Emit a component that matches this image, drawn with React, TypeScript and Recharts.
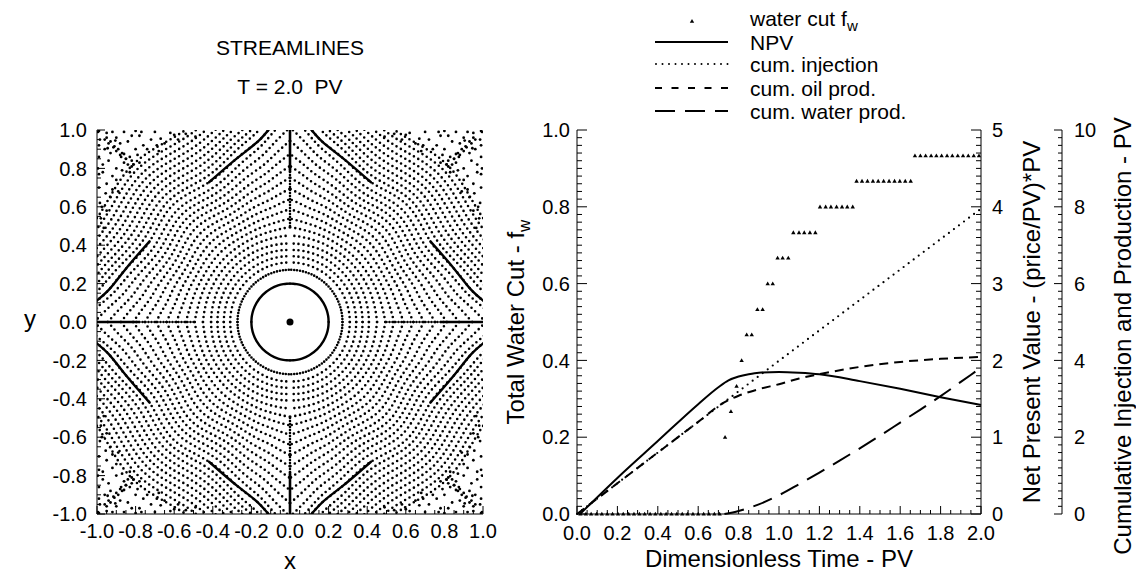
import React from "react";
import { ComposedChart, Line, Scatter, XAxis, YAxis } from "recharts";

const FONT = "'Liberation Sans', Arial, Helvetica, sans-serif";

// ---------- streamline panel ----------
// isochrone rings: radius read at these angles (deg) from the nearest axis
const ringAngles = [0, 5, 10, 18, 30, 45];
const ringR0 = [0.2, 0.272, 0.31, 0.343, 0.376, 0.409, 0.451, 0.494, 0.539, 0.588, 0.639, 0.694, 0.752, 0.813, 0.876, 0.944, 1.014, 1.081, 1.12, 1.181, 1.214, 1.247, 1.28, 1.313, 1.346, 1.379, 1.412, 1.445];
const ringR5 = [0.2, 0.272, 0.31, 0.343, 0.376, 0.409, 0.448, 0.488, 0.529, 0.573, 0.618, 0.666, 0.716, 0.768, 0.822, 0.878, 0.936, 0.992, 1.03, 1.081, 1.114, 1.147, 1.18, 1.213, 1.246, 1.279, 1.312, 1.345];
const ringR10 = [0.2, 0.272, 0.31, 0.343, 0.376, 0.409, 0.446, 0.483, 0.521, 0.561, 0.601, 0.643, 0.687, 0.732, 0.778, 0.825, 0.873, 0.921, 0.955, 1.001, 1.034, 1.067, 1.1, 1.133, 1.166, 1.199, 1.232, 1.265];
const ringR18 = [0.2, 0.272, 0.31, 0.343, 0.376, 0.409, 0.444, 0.479, 0.514, 0.55, 0.587, 0.624, 0.662, 0.7, 0.739, 0.779, 0.819, 0.858, 0.895, 0.931, 0.964, 0.997, 1.03, 1.063, 1.096, 1.129, 1.162, 1.195];
const ringR30 = [0.2, 0.272, 0.31, 0.343, 0.376, 0.409, 0.442, 0.475, 0.508, 0.541, 0.574, 0.607, 0.64, 0.673, 0.706, 0.739, 0.772, 0.805, 0.84, 0.871, 0.904, 0.937, 0.97, 1.003, 1.036, 1.069, 1.102, 1.135];
const ringR45 = [0.2, 0.272, 0.31, 0.343, 0.376, 0.409, 0.442, 0.475, 0.511, 0.547, 0.583, 0.619, 0.655, 0.691, 0.726, 0.759, 0.792, 0.825, 0.86, 0.891, 0.924, 0.957, 0.99, 1.023, 1.056, 1.089, 1.122, 1.155];
const solidRing = 0;
const denseRing = 1;
const boldNearEdgeRing = 18; // drawn solid near the edge midpoints only
const boldAngleCount = 5; // first five ring angles (0..30 deg)

// scattered particles in the stagnant corner (one octant, x >= y)
const cornerX = [
  0.985, 0.96, 0.99, 0.94, 0.97, 0.915, 0.88, 0.95, 0.99, 0.9, 0.86, 0.93, 0.985, 0.995, 0.95, 0.98, 0.9, 0.965, 0.875, 0.94, 0.92, 0.99,
  0.84, 0.87, 0.82, 0.9, 0.93, 0.96, 0.99, 0.85, 0.97, 0.92, 0.89, 0.995, 0.955, 0.83, 0.945, 0.975,
];
const cornerY = [
  0.95, 0.9, 0.86, 0.84, 0.78, 0.91, 0.87, 0.72, 0.7, 0.8, 0.83, 0.65, 0.62, 0.99, 0.58, 0.54, 0.74, 0.49, 0.86, 0.93, 0.69, 0.77,
  0.82, 0.79, 0.81, 0.89, 0.88, 0.95, 0.92, 0.85, 0.82, 0.76, 0.68, 0.8, 0.67, 0.78, 0.905, 0.6,
];

// lines along the axes (distance from the well)
const axisDottedR = [0.5, 0.8];
const axisSolidR = [0.78, 1.0];
const wellPoint = [{ x: 0, y: 0 }];

const spaceMajors = [-1, -0.8, -0.6, -0.4, -0.2, 0, 0.2, 0.4, 0.6, 0.8, 1];

// ---------- performance panel ----------
const wcTime = [
  0.017, 0.044, 0.07, 0.097, 0.123, 0.15, 0.176, 0.203, 0.229, 0.256, 0.282, 0.309, 0.335, 0.362,
  0.388, 0.415, 0.441, 0.468, 0.494, 0.521, 0.547, 0.574, 0.6, 0.627, 0.653, 0.68, 0.706,
  0.733, 0.762, 0.79, 0.815, 0.84, 0.865, 0.893, 0.919, 0.944, 0.969, 0.993, 1.018, 1.046,
  1.071, 1.099, 1.125, 1.153, 1.18, 1.203, 1.231, 1.257, 1.285, 1.312, 1.338, 1.365,
  1.384, 1.411, 1.438, 1.465, 1.491, 1.518, 1.545, 1.572, 1.598, 1.625, 1.652,
  1.673, 1.7, 1.726, 1.753, 1.779, 1.805, 1.832, 1.858, 1.885, 1.911, 1.937, 1.964, 1.99,
];
const wcValue = [
  0, 0, 0, 0, 0, 0, 0, 0, 0, 0, 0, 0, 0, 0,
  0, 0, 0, 0, 0, 0, 0, 0, 0, 0, 0, 0, 0,
  0.2, 0.267, 0.333, 0.4, 0.467, 0.467, 0.533, 0.533, 0.6, 0.6, 0.667, 0.667, 0.667,
  0.733, 0.733, 0.733, 0.733, 0.733, 0.8, 0.8, 0.8, 0.8, 0.8, 0.8, 0.8,
  0.867, 0.867, 0.867, 0.867, 0.867, 0.867, 0.867, 0.867, 0.867, 0.867, 0.867,
  0.933, 0.933, 0.933, 0.933, 0.933, 0.933, 0.933, 0.933, 0.933, 0.933, 0.933, 0.933, 0.933,
];

const npvTime = [0.015, 0.2, 0.4, 0.6, 0.7, 0.75, 0.8, 0.85, 0.9, 1.0, 1.1, 1.2, 1.4, 1.6, 1.8, 2.0];
const npvValue = [0, 0.47, 0.95, 1.43, 1.65, 1.74, 1.79, 1.82, 1.84, 1.85, 1.84, 1.82, 1.73, 1.63, 1.52, 1.42];

const injTime = [0, 0.5, 1.0, 1.5, 2.0];
const injValue = [0, 2.0, 3.99, 5.97, 7.95];

const oilTime = [0, 0.2, 0.4, 0.6, 0.72, 0.8, 0.9, 1.0, 1.1, 1.2, 1.4, 1.6, 1.8, 2.0];
const oilValue = [0, 0.8, 1.6, 2.4, 2.88, 3.08, 3.25, 3.38, 3.53, 3.64, 3.83, 3.96, 4.04, 4.09];

const waterTime = [0.73, 0.8, 0.9, 1.0, 1.1, 1.2, 1.3, 1.4, 1.5, 1.6, 1.7, 1.8, 1.9, 2.0];
const waterValue = [0, 0.08, 0.25, 0.49, 0.78, 1.08, 1.39, 1.71, 2.04, 2.38, 2.72, 3.07, 3.44, 3.81];

const timeMajors = [0, 0.2, 0.4, 0.6, 0.8, 1, 1.2, 1.4, 1.6, 1.8, 2];
const wcMajors = [0, 0.2, 0.4, 0.6, 0.8, 1];
const npvMajors = [0, 1, 2, 3, 4, 5];
const cumMajors = [0, 2, 4, 6, 8, 10];

// ---------- helpers ----------
const zip = (a: number[], b: number[]) => a.map((t, i) => ({ t, v: b[i] }));

function steps(a: number, b: number, n: number) {
  const out: number[] = [];
  for (let i = 0; i <= n; i++) out.push(+(a + ((b - a) * i) / n).toFixed(4));
  return out;
}

const ringRadii = (k: number) => [ringR0[k], ringR5[k], ringR10[k], ringR18[k], ringR30[k], ringR45[k]];

// one quadrant of a ring from its octant radii, mirrored about the diagonal
function quadrantArc(radii: number[], sx: number, sy: number) {
  const angs = [...ringAngles, ...ringAngles.slice(0, -1).reverse().map((a) => 90 - a)];
  const rs = [...radii, ...radii.slice(0, -1).reverse()];
  return angs.map((a, i) => {
    const th = (a * Math.PI) / 180;
    return { x: sx * rs[i] * Math.cos(th), y: sy * rs[i] * Math.sin(th) };
  });
}

// the part of a ring next to one axis (swap = next to the y axis)
function nearAxisArc(radii: number[], sx: number, sy: number, swap: boolean) {
  return ringAngles.slice(0, boldAngleCount).map((a, i) => {
    const th = (a * Math.PI) / 180;
    const u = radii[i] * Math.cos(th);
    const w = radii[i] * Math.sin(th);
    return swap ? { x: sx * w, y: sy * u } : { x: sx * u, y: sy * w };
  });
}

const quads = [
  [1, 1],
  [-1, 1],
  [-1, -1],
  [1, -1],
];

const ringSeries = ringR0.flatMap((_, k) =>
  quads.map(([sx, sy], q) => ({
    key: `r${k}-${q}`,
    ring: k,
    data: quadrantArc(ringRadii(k), sx, sy),
  }))
);

const boldSeries = quads.flatMap(([sx, sy], q) =>
  [false, true].map((swap) => ({
    key: `b${q}-${swap ? 1 : 0}`,
    data: nearAxisArc(ringRadii(boldNearEdgeRing), sx, sy, swap),
  }))
);

// the corner octant repeated into the eight symmetric positions
const cornerDots = quads.flatMap(([sx, sy]) =>
  cornerX.flatMap((cx, i) => [
    { x: sx * cx, y: sy * cornerY[i] },
    { x: sx * cornerY[i], y: sy * cx },
  ])
);

const axisLines = (r: number[]) => [
  r.map((d) => ({ x: d, y: 0 })),
  r.map((d) => ({ x: -d, y: 0 })),
  r.map((d) => ({ x: 0, y: d })),
  r.map((d) => ({ x: 0, y: -d })),
];

function makeTick(
  side: "left" | "right" | "bottom",
  majors: number[],
  fmt: (v: number) => string,
  majorLen: number,
  minorLen: number,
  gap: number
) {
  const isMajor = (v: number) => majors.some((m) => Math.abs(m - v) < 1e-6);
  return (p: any) => {
    const { x, y, payload } = p;
    const v = payload.value;
    const major = isMajor(v);
    const len = major ? majorLen : minorLen;
    const style = { fontFamily: FONT, fontSize: 20, fill: "#000" };
    if (side === "bottom") {
      return (
        <g>
          <line x1={x} y1={y} x2={x} y2={y - len} stroke="#000" strokeWidth={1} />
          {major && (
            <text x={x} y={y + gap} textAnchor="middle" dy="0.72em" style={style}>
              {fmt(v)}
            </text>
          )}
        </g>
      );
    }
    const dir = side === "left" ? 1 : -1;
    return (
      <g>
        <line x1={x} y1={y} x2={x + dir * len} y2={y} stroke="#000" strokeWidth={1} />
        {major && (
          <text x={x - dir * gap} y={y} textAnchor={side === "left" ? "end" : "start"} dy="0.36em" style={style}>
            {fmt(v)}
          </text>
        )}
      </g>
    );
  };
}

const f1 = (v: number) => v.toFixed(1);
const f0 = (v: number) => v.toFixed(0);

function ringStyle(k: number) {
  if (k === solidRing) return { strokeWidth: 2.4, strokeDasharray: undefined };
  if (k === denseRing) return { strokeWidth: 2.6, strokeDasharray: "0 3" };
  return { strokeWidth: 2.6, strokeDasharray: "0 5" };
}

function Dot(p: any) {
  const { cx, cy } = p;
  if (cx == null || cy == null) return null;
  return <circle cx={cx} cy={cy} r={1.4} fill="#000" />;
}

function StreamlinePanel() {
  const ticks = steps(-1, 1, 40);
  return (
    <ComposedChart width={500} height={573} margin={{ top: 130, right: 17, bottom: 19, left: 37 }}>
      <XAxis
        type="number"
        dataKey="x"
        domain={[-1, 1]}
        allowDataOverflow
        ticks={ticks}
        interval={0}
        tickSize={0}
        tickMargin={0}
        height={40}
        axisLine={{ stroke: "#000" }}
        tick={makeTick("bottom", spaceMajors, f1, 8, 4, 10)}
      />
      <XAxis xAxisId="top" orientation="top" type="number" domain={[0, 1]} height={0} tick={false} tickLine={false} axisLine={{ stroke: "#000" }} />
      <YAxis
        type="number"
        domain={[-1, 1]}
        allowDataOverflow
        ticks={ticks}
        interval={0}
        tickSize={0}
        tickMargin={0}
        width={60}
        axisLine={{ stroke: "#000" }}
        tick={makeTick("left", spaceMajors, f1, 8, 4, 10)}
      />
      <YAxis yAxisId="right" orientation="right" type="number" domain={[0, 1]} width={0} tick={false} tickLine={false} axisLine={{ stroke: "#000" }} />
      {ringSeries.map((s) => (
        <Line
          key={s.key}
          data={s.data}
          dataKey="y"
          type="natural"
          stroke="#000"
          {...ringStyle(s.ring)}
          strokeLinecap="round"
          dot={false}
          activeDot={false}
          isAnimationActive={false}
        />
      ))}
      {boldSeries.map((s) => (
        <Line key={s.key} data={s.data} dataKey="y" type="natural" stroke="#000" strokeWidth={2.4} strokeLinecap="round" dot={false} activeDot={false} isAnimationActive={false} />
      ))}
      {axisLines(axisDottedR).map((d, i) => (
        <Line key={`ad${i}`} data={d} dataKey="y" stroke="#000" strokeWidth={2.6} strokeDasharray="0 3" strokeLinecap="round" dot={false} activeDot={false} isAnimationActive={false} />
      ))}
      {axisLines(axisSolidR).map((d, i) => (
        <Line key={`as${i}`} data={d} dataKey="y" stroke="#000" strokeWidth={2.6} dot={false} activeDot={false} isAnimationActive={false} />
      ))}
      <Scatter data={cornerDots} dataKey="y" shape={<Dot />} isAnimationActive={false} />
      <Line data={wellPoint} dataKey="y" stroke="none" dot={{ r: 3.5, fill: "#000", stroke: "none" }} activeDot={false} isAnimationActive={false} />
    </ComposedChart>
  );
}

function Triangle(p: any) {
  const { cx, cy } = p;
  if (cx == null || cy == null) return null;
  return <path d={`M${cx},${cy - 2.2} L${cx + 2.2},${cy + 1.6} L${cx - 2.2},${cy + 1.6} Z`} fill="#000" />;
}

function PerformancePanel() {
  const tTicks = steps(0, 2, 40);
  const wTicks = steps(0, 1, 50);
  const nTicks = steps(0, 5, 50);
  const cTicks = steps(0, 10, 50);
  return (
    <ComposedChart width={656} height={573} margin={{ top: 130, right: 14, bottom: 19, left: 7 }}>
      <XAxis
        type="number"
        dataKey="t"
        domain={[0, 2]}
        ticks={tTicks}
        interval={0}
        tickSize={0}
        tickMargin={0}
        height={40}
        axisLine={{ stroke: "#000" }}
        tick={makeTick("bottom", timeMajors, f1, 8, 4, 12)}
      />
      <XAxis xAxisId="top" orientation="top" type="number" domain={[0, 1]} height={0} tick={false} tickLine={false} axisLine={{ stroke: "#000" }} />
      <YAxis
        yAxisId="fw"
        type="number"
        dataKey="v"
        domain={[0, 1]}
        ticks={wTicks}
        interval={0}
        tickSize={0}
        tickMargin={0}
        width={90}
        axisLine={{ stroke: "#000" }}
        tick={makeTick("left", wcMajors, f1, 10, 5, 7)}
      />
      <YAxis
        yAxisId="r2cum"
        orientation="right"
        type="number"
        domain={[0, 10]}
        ticks={cTicks}
        interval={0}
        tickSize={0}
        tickMargin={0}
        width={60}
        axisLine={{ stroke: "#000" }}
        tick={makeTick("right", cumMajors, f0, 8, 4, 12)}
      />
      <YAxis
        yAxisId="r1npv"
        orientation="right"
        type="number"
        domain={[0, 5]}
        ticks={nTicks}
        interval={0}
        tickSize={0}
        tickMargin={0}
        width={81}
        axisLine={{ stroke: "#000" }}
        tick={makeTick("right", npvMajors, f0, 10, 5, 11)}
      />
      <Scatter yAxisId="fw" data={zip(wcTime, wcValue)} dataKey="v" shape={<Triangle />} isAnimationActive={false} />
      <Line yAxisId="r1npv" data={zip(npvTime, npvValue)} dataKey="v" type="monotone" stroke="#000" strokeWidth={2} dot={false} activeDot={false} isAnimationActive={false} />
      <Line yAxisId="r2cum" data={zip(injTime, injValue)} dataKey="v" stroke="#000" strokeWidth={2.2} strokeDasharray="0 6.3" strokeLinecap="round" dot={false} activeDot={false} isAnimationActive={false} />
      <Line yAxisId="r2cum" data={zip(oilTime, oilValue)} dataKey="v" type="monotone" stroke="#000" strokeWidth={2} strokeDasharray="9 6" dot={false} activeDot={false} isAnimationActive={false} />
      <Line yAxisId="r2cum" data={zip(waterTime, waterValue)} dataKey="v" type="monotone" stroke="#000" strokeWidth={2} strokeDasharray="20 10" dot={false} activeDot={false} isAnimationActive={false} />
    </ComposedChart>
  );
}

const txt = { fontFamily: FONT, fill: "#000" } as const;

function Legend() {
  const rows = [
    { y: 18, kind: "tri", label: "water cut f", sub: "w" },
    { y: 42, kind: "solid", label: "NPV" },
    { y: 64, kind: "dot", label: "cum. injection" },
    { y: 88, kind: "dash", label: "cum. oil prod." },
    { y: 111, kind: "long", label: "cum. water prod." },
  ];
  return (
    <g>
      {rows.map((r) => (
        <g key={r.label}>
          {r.kind === "tri" && <path d={`M692,${r.y + 1} L694.2,${r.y + 4.8} L689.8,${r.y + 4.8} Z`} fill="#000" />}
          {r.kind === "solid" && <line x1={655} x2={728} y1={r.y} y2={r.y} stroke="#000" strokeWidth={2} />}
          {r.kind === "dot" && <line x1={656} x2={728} y1={r.y} y2={r.y} stroke="#000" strokeWidth={2} strokeDasharray="0 6.5" strokeLinecap="round" />}
          {r.kind === "dash" && <line x1={655} x2={728} y1={r.y} y2={r.y} stroke="#000" strokeWidth={2} strokeDasharray="7 9.5" />}
          {r.kind === "long" && <line x1={655} x2={728} y1={r.y} y2={r.y} stroke="#000" strokeWidth={2} strokeDasharray="20 10" />}
          <text x={750} y={r.y} dy="0.36em" fontSize={21} style={txt}>
            {r.label}
            {r.sub && (
              <tspan dy={5} fontSize={15}>
                {r.sub}
              </tspan>
            )}
          </text>
        </g>
      ))}
    </g>
  );
}

export default function App() {
  return (
    <div style={{ position: "absolute", left: 0, top: 0, width: 1136, height: 573, background: "#fff", overflow: "hidden" }}>
      <div style={{ position: "absolute", left: 0, top: 0 }}>
        <StreamlinePanel />
      </div>
      <div style={{ position: "absolute", left: 480, top: 0 }}>
        <PerformancePanel />
      </div>
      <svg width={1136} height={573} style={{ position: "absolute", left: 0, top: 0, pointerEvents: "none" }}>
        <text x={290} y={47} textAnchor="middle" dy="0.36em" fontSize={21} style={txt}>STREAMLINES</text>
        <text x={290} y={86} textAnchor="middle" dy="0.36em" fontSize={21} style={txt} xmlSpace="preserve">T = 2.0  PV</text>
        <text x={290} y={560} textAnchor="middle" dy="0.36em" fontSize={24} style={txt}>x</text>
        <text x={30} y={318} textAnchor="middle" dy="0.36em" fontSize={24} style={txt}>y</text>
        <text x={779} y={558} textAnchor="middle" dy="0.36em" fontSize={24} style={txt}>Dimensionless Time - PV</text>
        <text transform="translate(515,322) rotate(-90)" textAnchor="middle" dy="0.36em" fontSize={24} style={txt}>
          Total Water Cut - f<tspan dy={6} fontSize={17}>w</tspan>
        </text>
        <text transform="translate(1031,322) rotate(-90)" textAnchor="middle" dy="0.36em" fontSize={24} style={txt}>
          Net Present Value - (price/PV)*PV
        </text>
        <text transform="translate(1122,336) rotate(-90)" textAnchor="middle" dy="0.36em" fontSize={24} style={txt}>
          Cumulative Injection and Production - PV
        </text>
        <Legend />
      </svg>
    </div>
  );
}
